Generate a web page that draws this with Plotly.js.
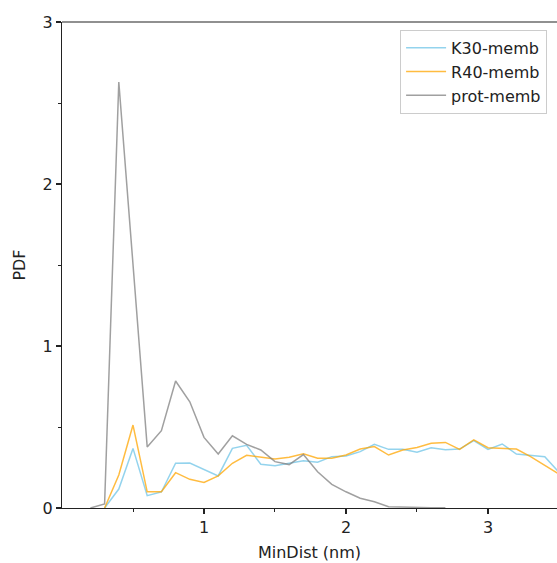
<!DOCTYPE html>
<html><head><meta charset="utf-8">
<script src="https://cdn.plot.ly/plotly-3.0.1.min.js"></script>
<style>html,body{margin:0;padding:0;background:#fff}#chart{width:557px;height:563px}</style>
</head><body><div id="chart"></div>
<script>
const xK30 = [0.3,0.4,0.5,0.6,0.7,0.8,0.9,1.0,1.1,1.2,1.3,1.4,1.5,1.6,1.7,1.8,1.9,2.0,2.1,2.2,2.3,2.4,2.5,2.6,2.7,2.8,2.9,3.0,3.1,3.2,3.3,3.4,3.5];
const yK30 = [0.0,0.117,0.368,0.076,0.099,0.276,0.278,0.239,0.198,0.368,0.387,0.27,0.261,0.276,0.292,0.282,0.317,0.321,0.348,0.393,0.362,0.362,0.344,0.372,0.36,0.364,0.416,0.362,0.395,0.333,0.325,0.317,0.22];
const xR40 = [0.3,0.4,0.5,0.6,0.7,0.8,0.9,1.0,1.1,1.2,1.3,1.4,1.5,1.6,1.7,1.8,1.9,2.0,2.1,2.2,2.3,2.4,2.5,2.6,2.7,2.8,2.9,3.0,3.1,3.2,3.3,3.4,3.5];
const yR40 = [0.0,0.204,0.512,0.1,0.1,0.218,0.177,0.158,0.198,0.276,0.325,0.313,0.302,0.313,0.335,0.307,0.307,0.327,0.364,0.379,0.327,0.358,0.374,0.399,0.405,0.362,0.42,0.372,0.368,0.364,0.317,0.265,0.21];
const xProt = [0.2,0.3,0.4,0.5,0.6,0.7,0.8,0.9,1.0,1.1,1.2,1.3,1.4,1.5,1.6,1.7,1.8,1.9,2.0,2.1,2.2,2.3,2.4,2.5,2.6,2.7];
const yProt = [0.0,0.025,2.63,1.5,0.377,0.477,0.784,0.656,0.436,0.333,0.446,0.393,0.358,0.286,0.268,0.33,0.224,0.146,0.10,0.06,0.039,0.008,0.005,0.003,0.002,0.001];
const names = ['K30-memb','R40-memb','prot-memb'];
const colors = ['rgba(135,206,235,0.9)','rgba(255,165,0,0.75)','rgba(128,128,128,0.75)'];

const font = {family:'DejaVu Sans, sans-serif', size:16, color:'#222'};
const traces = [[xK30,yK30],[xR40,yR40],[xProt,yProt]].map((d,i)=>({
  x:d[0], y:d[1], type:'scatter', mode:'lines', name:names[i],
  line:{color:colors[i], width:1.5}
}));

const layout = {
  width:557, height:563,
  margin:{l:62, r:0, t:22, b:55},
  paper_bgcolor:'#fff', plot_bgcolor:'#fff',
  font:font,
  showlegend:true,
  legend:{x:0.683, y:0.984, xanchor:'left', yanchor:'top', bordercolor:'#ccc', borderwidth:1,
          bgcolor:'rgba(255,255,255,0.8)', font:{family:'DejaVu Sans, sans-serif', size:16, color:'#222'},
          tracegroupgap:0, itemwidth:40},
  xaxis:{range:[0,3.486], tickvals:[1,2,3], ticktext:['1','2','3'], ticks:'outside', ticklen:5, tickwidth:1.2,
         tickcolor:'#222', showline:true, linecolor:'#222', linewidth:1.2, showgrid:false, zeroline:false,
         minor:{tickvals:[0.5,1.5,2.5], ticks:'outside', ticklen:3, tickwidth:1, tickcolor:'#222'},
         title:{text:'MinDist (nm)', font:font, standoff:10}},
  yaxis:{range:[0,3], tickvals:[0,1,2,3], ticks:'outside', ticklen:5, tickwidth:1.2, tickcolor:'#222',
         showline:true, linecolor:'#222', linewidth:1.2, showgrid:false, zeroline:false,
         minor:{tickvals:[0.5,1.5,2.5], ticks:'outside', ticklen:3, tickwidth:1, tickcolor:'#222'},
         title:{text:'PDF', font:font, standoff:12}},
  shapes:[{type:'line', xref:'paper', yref:'paper', x0:0, x1:1, y0:1, y1:1, line:{color:'#222', width:1.2}}]
};
Plotly.newPlot('chart', traces, layout, {displayModeBar:false, staticPlot:true});
</script></body></html>
